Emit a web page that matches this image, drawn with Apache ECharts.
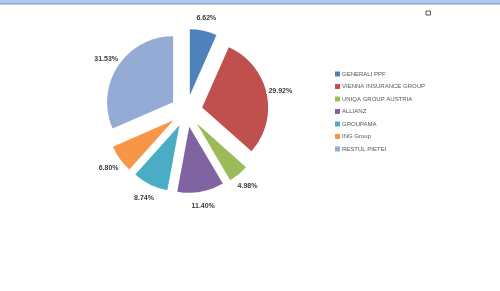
<!DOCTYPE html>
<html><head><meta charset="utf-8">
<script src="https://cdn.jsdelivr.net/npm/echarts@6/dist/echarts.min.js"></script>
<style>html,body{margin:0;padding:0;background:#fff;}#c{width:500px;height:291px;}</style>
</head><body><div id="c"></div>
<script>
const categories = ['GENERALI PPF','VIENNA INSURANCE GROUP','UNIQA GROUP AUSTRIA','ALLIANZ','GROUPAMA','ING Group','RESTUL PIETEI'];
const values = [6.62, 29.92, 4.98, 11.40, 8.74, 6.80, 31.53];
const colors = ['#4F81BD','#C0504D','#9BBB59','#8064A2','#4BACC6','#F79646','#94ABD6'];
const FONT = '"Liberation Sans", Arial, sans-serif';

const chart = echarts.init(document.getElementById('c'), null, {renderer:'canvas'});
chart.setOption({
  backgroundColor:'#ffffff',
  animation:false,
  color: colors,
  legend:{
    orient:'vertical', left:335, top:70.5, padding:0,
    itemWidth:5, itemHeight:5, itemGap:5.5,
    icon:'rect',
    textStyle:{fontFamily:FONT, fontSize:6, lineHeight:7, color:'#555', padding:[0,0,0,-3]},
    data: categories
  },
  graphic:[
    {type:'rect', shape:{x:0,y:0,width:500,height:3}, style:{fill:'#AFC9EF'}},
    {type:'rect', shape:{x:0,y:3,width:500,height:1.5}, style:{fill:'#8EA9D6'}},
    {type:'rect', shape:{x:426,y:11,width:4.5,height:4}, style:{fill:'none', stroke:'#555', lineWidth:1}}
  ],
  series:[{
    type:'pie',
    center:[186.5,111],
    radius:66,
    startAngle:90,
    selectedMode:'multiple',
    selectedOffset:16,
    label:{show:false},
    labelLine:{show:false},
    emphasis:{disabled:true},
    data: categories.map((n,i)=>({name:n, value:values[i], selected:true}))
  },{
    type:'pie',
    center:[186.5,112],
    radius:[88,98],
    startAngle:90,
    silent:true,
    z:1,
    itemStyle:{color:'rgba(0,0,0,0)'},
    label:{show:true, position:'inside', rotate:0, formatter: p => p.value.toFixed(2)+'%',
      fontFamily:FONT, fontSize:7, fontWeight:'bold', color:'#3a3a3a'},
    labelLine:{show:false},
    emphasis:{disabled:true},
    data: categories.map((n,i)=>({name:n, value:values[i]}))
  }]
});
</script></body></html>
